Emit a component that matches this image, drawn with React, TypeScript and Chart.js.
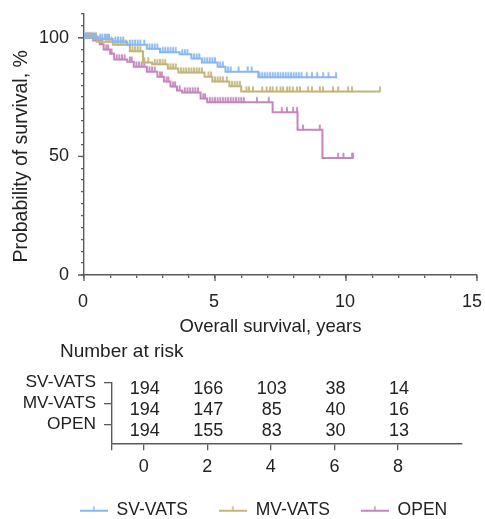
import React, { useEffect, useRef } from 'react';
import { Chart, registerables } from 'chart.js';

Chart.register(...registerables);

// ---------------- data ----------------
const seriesNames = ['SV-VATS', 'MV-VATS', 'OPEN'];
const seriesColors = ['#86b7f3', '#c2b57a', '#c785be'];

const svTimes = [0, 0.5, 1.1, 1.65, 2.4, 2.9, 3.65, 4.1, 4.5, 5.1, 5.4, 6.65, 9.66];
const svSurv = [100, 99.5, 98.3, 97.0, 95.4, 93.9, 93.0, 91.2, 89.6, 87.8, 85.7, 83.3, 83.3];
const svCensor = [0.05, 0.12, 0.2, 0.3, 0.38, 0.45, 0.62, 0.7, 0.8, 0.88, 0.95, 1.2, 1.3, 1.4, 1.5, 1.75, 1.85, 1.95, 2.05, 2.15, 2.3, 2.5, 2.6, 2.7, 2.8, 3.0, 3.1, 3.2, 3.3, 3.4, 3.5, 3.75, 3.85, 3.95, 4.2, 4.3, 4.4, 4.6, 4.7, 4.8, 4.9, 5.0, 5.2, 5.3, 5.5, 5.6, 5.9, 6.25, 6.4, 6.7, 6.8, 6.9, 7.0, 7.1, 7.2, 7.3, 7.4, 7.5, 7.6, 7.7, 7.8, 7.9, 8.0, 8.1, 8.2, 8.3, 8.5, 8.7, 8.9, 9.13, 9.33, 9.62];

const mvTimes = [0, 0.5, 1.1, 1.75, 2.25, 2.6, 3.2, 3.6, 4.6, 4.9, 5.55, 6.0, 11.3];
const mvSurv = [100, 98.3, 97.0, 94.3, 89.6, 88.8, 87.0, 85.3, 83.6, 81.5, 79.6, 77.3, 77.3];
const mvCensor = [0.05, 0.15, 0.25, 0.35, 0.45, 0.6, 0.7, 0.85, 0.95, 1.05, 1.2, 1.3, 1.4, 1.5, 1.6, 1.85, 1.95, 2.05, 2.15, 2.3, 2.45, 2.7, 2.8, 2.9, 3.0, 3.1, 3.3, 3.4, 3.5, 3.7, 3.8, 3.9, 4.0, 4.1, 4.2, 4.3, 4.4, 4.5, 4.75, 4.85, 5.0, 5.1, 5.2, 5.3, 5.45, 5.65, 5.75, 5.85, 5.95, 6.2, 6.3, 6.45, 6.8, 6.97, 7.1, 7.2, 7.35, 7.5, 7.6, 7.75, 7.85, 7.97, 8.13, 8.24, 8.55, 8.7, 9.0, 9.12, 9.5, 9.7, 10.08, 10.23, 11.3];

const openTimes = [0, 0.35, 0.6, 0.75, 1.0, 1.15, 1.65, 1.9, 2.4, 2.8, 3.05, 3.3, 3.55, 3.75, 4.45, 4.7, 7.2, 8.15, 9.1, 10.27];
const openSurv = [100, 98.8, 97.2, 95.0, 93.2, 90.8, 89.9, 87.8, 85.7, 83.6, 81.5, 79.4, 77.8, 76.9, 74.4, 72.8, 68.6, 61.2, 49.3, 49.3];
const openCensor = [0.1, 0.2, 0.28, 0.45, 0.52, 0.68, 0.85, 0.92, 1.05, 1.25, 1.35, 1.45, 1.55, 1.75, 1.82, 2.0, 2.1, 2.2, 2.3, 2.5, 2.6, 2.7, 2.9, 2.97, 3.15, 3.22, 3.4, 3.48, 3.65, 3.85, 3.95, 4.05, 4.15, 4.25, 4.35, 4.55, 4.62, 4.8, 4.9, 5.0, 5.1, 5.2, 5.3, 5.4, 5.5, 5.6, 5.7, 5.8, 5.9, 6.0, 6.1, 6.6, 7.05, 7.55, 7.75, 7.98, 8.13, 8.36, 9.0, 9.7, 9.9, 10.23, 10.27];

const xLabeledTicks = [0, 5, 10, 15];
const yLabeledTicks = [0, 50, 100];

const riskTimes = [0, 2, 4, 6, 8];
const svRisk = [194, 166, 103, 38, 14];
const mvRisk = [194, 147, 85, 40, 16];
const openRisk = [194, 155, 83, 30, 13];

const FONT = "'Liberation Sans', Arial, Helvetica, sans-serif";
const TEXT = '#222222';
const AXIS = '#5a5a5a';

function survivalAt(times: number[], surv: number[], t: number) {
  let v = surv[0];
  for (let i = 0; i < times.length; i++) if (times[i] <= t + 1e-9) v = surv[i];
  return v;
}

function makeCensorImg(color: string) {
  const c = document.createElement('canvas');
  c.width = 4;
  c.height = 14;
  const g = c.getContext('2d')!;
  g.strokeStyle = color;
  g.lineWidth = 1.8;
  g.beginPath();
  g.moveTo(2, 1.8);
  g.lineTo(2, 7.6);
  g.stroke();
  return c;
}

function makeLegendImg(color: string) {
  const c = document.createElement('canvas');
  c.width = 28;
  c.height = 10;
  const g = c.getContext('2d')!;
  g.strokeStyle = color;
  g.lineWidth = 2;
  g.beginPath();
  g.moveTo(0, 6);
  g.lineTo(28, 6);
  g.stroke();
  g.lineWidth = 1.4;
  g.beginPath();
  g.moveTo(14, 1.5);
  g.lineTo(14, 6);
  g.stroke();
  return c;
}

export default function App() {
  const kmRef = useRef<HTMLCanvasElement>(null);
  const riskRef = useRef<HTMLCanvasElement>(null);
  const legendRef = useRef<HTMLCanvasElement>(null);

  useEffect(() => {
    const prevMargin = document.body.style.margin;
    document.body.style.margin = '0';
    const series = [
      { times: svTimes, surv: svSurv, censor: svCensor },
      { times: mvTimes, surv: mvSurv, censor: mvCensor },
      { times: openTimes, surv: openSurv, censor: openCensor },
    ];
    const censorImgs = seriesColors.map(makeCensorImg);
    const legendImgs = seriesColors.map(makeLegendImg);

    const lineSets: any[] = series.map((s, i) => ({
      type: 'line',
      label: seriesNames[i],
      data: s.times.map((t, j) => ({ x: t, y: s.surv[j] })),
      stepped: 'before',
      borderColor: seriesColors[i],
      borderWidth: 2,
      pointRadius: 0,
      fill: false,
    }));
    const censorSets: any[] = series.map((s, i) => ({
      type: 'scatter',
      label: seriesNames[i] + ' censored',
      data: s.censor.map((t) => ({ x: t, y: survivalAt(s.times, s.surv, t) })),
      pointStyle: censorImgs[i],
      pointRadius: 3,
      showLine: false,
    }));

    const titlesPlugin = {
      id: 'kmTitles',
      afterDraw(chart: any) {
        const { ctx, scales } = chart;
        const x = scales.x;
        const y = scales.y;
        ctx.save();
        // longer major ticks
        ctx.strokeStyle = AXIS;
        ctx.lineWidth = 1.3;
        ctx.beginPath();
        yLabeledTicks.forEach((v) => {
          const py = y.getPixelForValue(v);
          ctx.moveTo(y.right - 6, py);
          ctx.lineTo(y.right, py);
        });
        xLabeledTicks.forEach((v) => {
          const px = x.getPixelForValue(v);
          ctx.moveTo(px, x.top);
          ctx.lineTo(px, x.top + 6);
        });
        ctx.stroke();
        ctx.fillStyle = TEXT;
        // x tick labels, kept inside the canvas
        ctx.font = `18px ${FONT}`;
        ctx.textAlign = 'center';
        ctx.textBaseline = 'middle';
        xLabeledTicks.forEach((v) => {
          const txt = String(v);
          const w = ctx.measureText(txt).width;
          let px = x.getPixelForValue(v) - 1;
          if (px + w / 2 > chart.width - 3) px = chart.width - 3 - w / 2;
          ctx.fillText(txt, px, x.top + 27);
        });
        ctx.font = `18.5px ${FONT}`;
        ctx.fillText('Overall survival, years', (x.left + x.right) / 2 - 10, 327);
        ctx.font = `19.5px ${FONT}`;
        ctx.translate(22, (y.getPixelForValue(0) + y.getPixelForValue(100)) / 2);
        ctx.rotate(-Math.PI / 2);
        ctx.fillText('Probability of survival, %', 0, 0);
        ctx.restore();
      },
    };

    const km = new Chart(kmRef.current!, {
      type: 'scatter',
      data: { datasets: [...lineSets, ...censorSets] },
      options: {
        responsive: false,
        animation: false,
        layout: { padding: { left: 0, right: 8, top: 14, bottom: 0 } },
        plugins: { legend: { display: false }, tooltip: { enabled: false }, title: { display: false } },
        scales: {
          x: {
            type: 'linear',
            min: 0,
            max: 15,
            ticks: {
              stepSize: 1,
              autoSkip: false,
              maxRotation: 0,
              padding: 13,
              color: TEXT,
              font: { family: FONT, size: 18 },
              callback: () => '',
            },
            grid: { drawOnChartArea: false, drawTicks: true, tickLength: 3, color: AXIS, lineWidth: 1.3 },
            border: { display: true, color: AXIS, width: 1.4 },
            afterFit: (s: any) => {
              s.height = 65;
              s.paddingLeft = 0;
              s.paddingRight = 0;
            },
          },
          y: {
            type: 'linear',
            min: 0,
            max: 110,
            ticks: {
              stepSize: 5,
              autoSkip: false,
              padding: 12,
              color: TEXT,
              font: { family: FONT, size: 18 },
              callback: (v: any) => (yLabeledTicks.includes(Number(v)) ? String(v) : ''),
            },
            grid: { drawOnChartArea: false, drawTicks: true, tickLength: 3, color: AXIS, lineWidth: 1.3 },
            border: { display: true, color: AXIS, width: 1.4 },
            afterFit: (s: any) => {
              s.width = 84;
              s.paddingTop = 0;
              s.paddingBottom = 0;
            },
          },
        },
      } as any,
      plugins: [titlesPlugin],
    });

    const riskGroups = [svRisk, mvRisk, openRisk];
    const riskPlugin = {
      id: 'riskNumbers',
      afterDraw(chart: any) {
        const { ctx, scales } = chart;
        const x = scales.x;
        const y = scales.y;
        ctx.save();
        ctx.fillStyle = TEXT;
        ctx.font = `19px ${FONT}`;
        ctx.textBaseline = 'middle';
        ctx.textAlign = 'left';
        ctx.fillText('Number at risk', 60, 12);
        ctx.font = `18px ${FONT}`;
        ctx.textAlign = 'center';
        riskGroups.forEach((row, i) => {
          const py = y.getPixelForValue(3 - i) + 7;
          row.forEach((n, j) => {
            ctx.fillText(String(n), x.getPixelForValue(riskTimes[j]) + 1, py);
          });
        });
        ctx.restore();
      },
    };

    const risk = new Chart(riskRef.current!, {
      type: 'scatter',
      data: { datasets: [] },
      options: {
        responsive: false,
        animation: false,
        layout: { padding: { left: 12, right: 23.5, top: 42.5, bottom: 0 } },
        plugins: { tooltip: { enabled: false }, title: { display: false }, legend: { display: false } },
        scales: {
          x: {
            type: 'linear',
            min: -1,
            max: 10,
            afterBuildTicks: (s: any) => {
              s.ticks = [-1, ...riskTimes].map((v) => ({ value: v }));
            },
            ticks: {
              autoSkip: false,
              maxRotation: 0,
              padding: 6,
              color: TEXT,
              font: { family: FONT, size: 18 },
              callback: (v: any) => (Number(v) < 0 ? '' : String(v)),
            },
            grid: { drawOnChartArea: false, drawTicks: true, tickLength: 7, color: AXIS, lineWidth: 1.3 },
            border: { display: true, color: AXIS, width: 1.4 },
            afterFit: (s: any) => {
              s.height = 36.7;
              s.paddingLeft = 0;
              s.paddingRight = 0;
            },
          },
          y: {
            type: 'linear',
            min: 0.1,
            max: 3,
            afterBuildTicks: (s: any) => {
              s.ticks = [1, 2, 3].map((v) => ({ value: v }));
            },
            ticks: {
              autoSkip: false,
              padding: 8,
              color: TEXT,
              font: { family: FONT, size: 17.3 },
              callback: (v: any) => seriesNames[3 - Number(v)],
            },
            grid: { drawOnChartArea: false, drawTicks: true, tickLength: 8, color: AXIS, lineWidth: 1.3 },
            border: { display: true, color: AXIS, width: 1.4 },
            afterFit: (s: any) => {
              s.width = 100;
              s.paddingTop = 0;
              s.paddingBottom = 0;
            },
          },
        },
      } as any,
      plugins: [riskPlugin],
    });

    const legend = new Chart(legendRef.current!, {
      type: 'scatter',
      data: { datasets: [] },
      options: {
        responsive: false,
        animation: false,
        layout: { padding: 0 },
        scales: { x: { display: false }, y: { display: false } },
        plugins: {
          tooltip: { enabled: false },
          title: { display: false },
          legend: {
            display: true,
            position: 'top',
            maxHeight: 100,
            labels: {
              usePointStyle: true,
              pointStyleWidth: 28,
              boxWidth: 28,
              padding: 31,
              color: TEXT,
              font: { family: FONT, size: 17.5 },
              generateLabels: () =>
                seriesNames.map((name, i) => ({
                  text: name,
                  fillStyle: seriesColors[i],
                  strokeStyle: seriesColors[i],
                  fontColor: TEXT,
                  lineWidth: 0,
                  pointStyle: legendImgs[i],
                  hidden: false,
                  datasetIndex: i,
                })),
            },
          },
        },
      } as any,
    });

    return () => {
      km.destroy();
      risk.destroy();
      legend.destroy();
      document.body.style.margin = prevMargin;
    };
  }, []);

  return (
    <div
      style={{
        position: 'fixed',
        left: 0,
        top: 0,
        width: 485,
        height: 519,
        overflow: 'hidden',
        background: '#ffffff',
      }}
    >
      <canvas ref={kmRef} width={485} height={340} style={{ position: 'absolute', left: 0, top: 0 }} />
      <canvas ref={riskRef} width={485} height={140} style={{ position: 'absolute', left: 0, top: 340 }} />
      <canvas ref={legendRef} width={465} height={160} style={{ position: 'absolute', left: 31, top: 470 }} />
    </div>
  );
}
